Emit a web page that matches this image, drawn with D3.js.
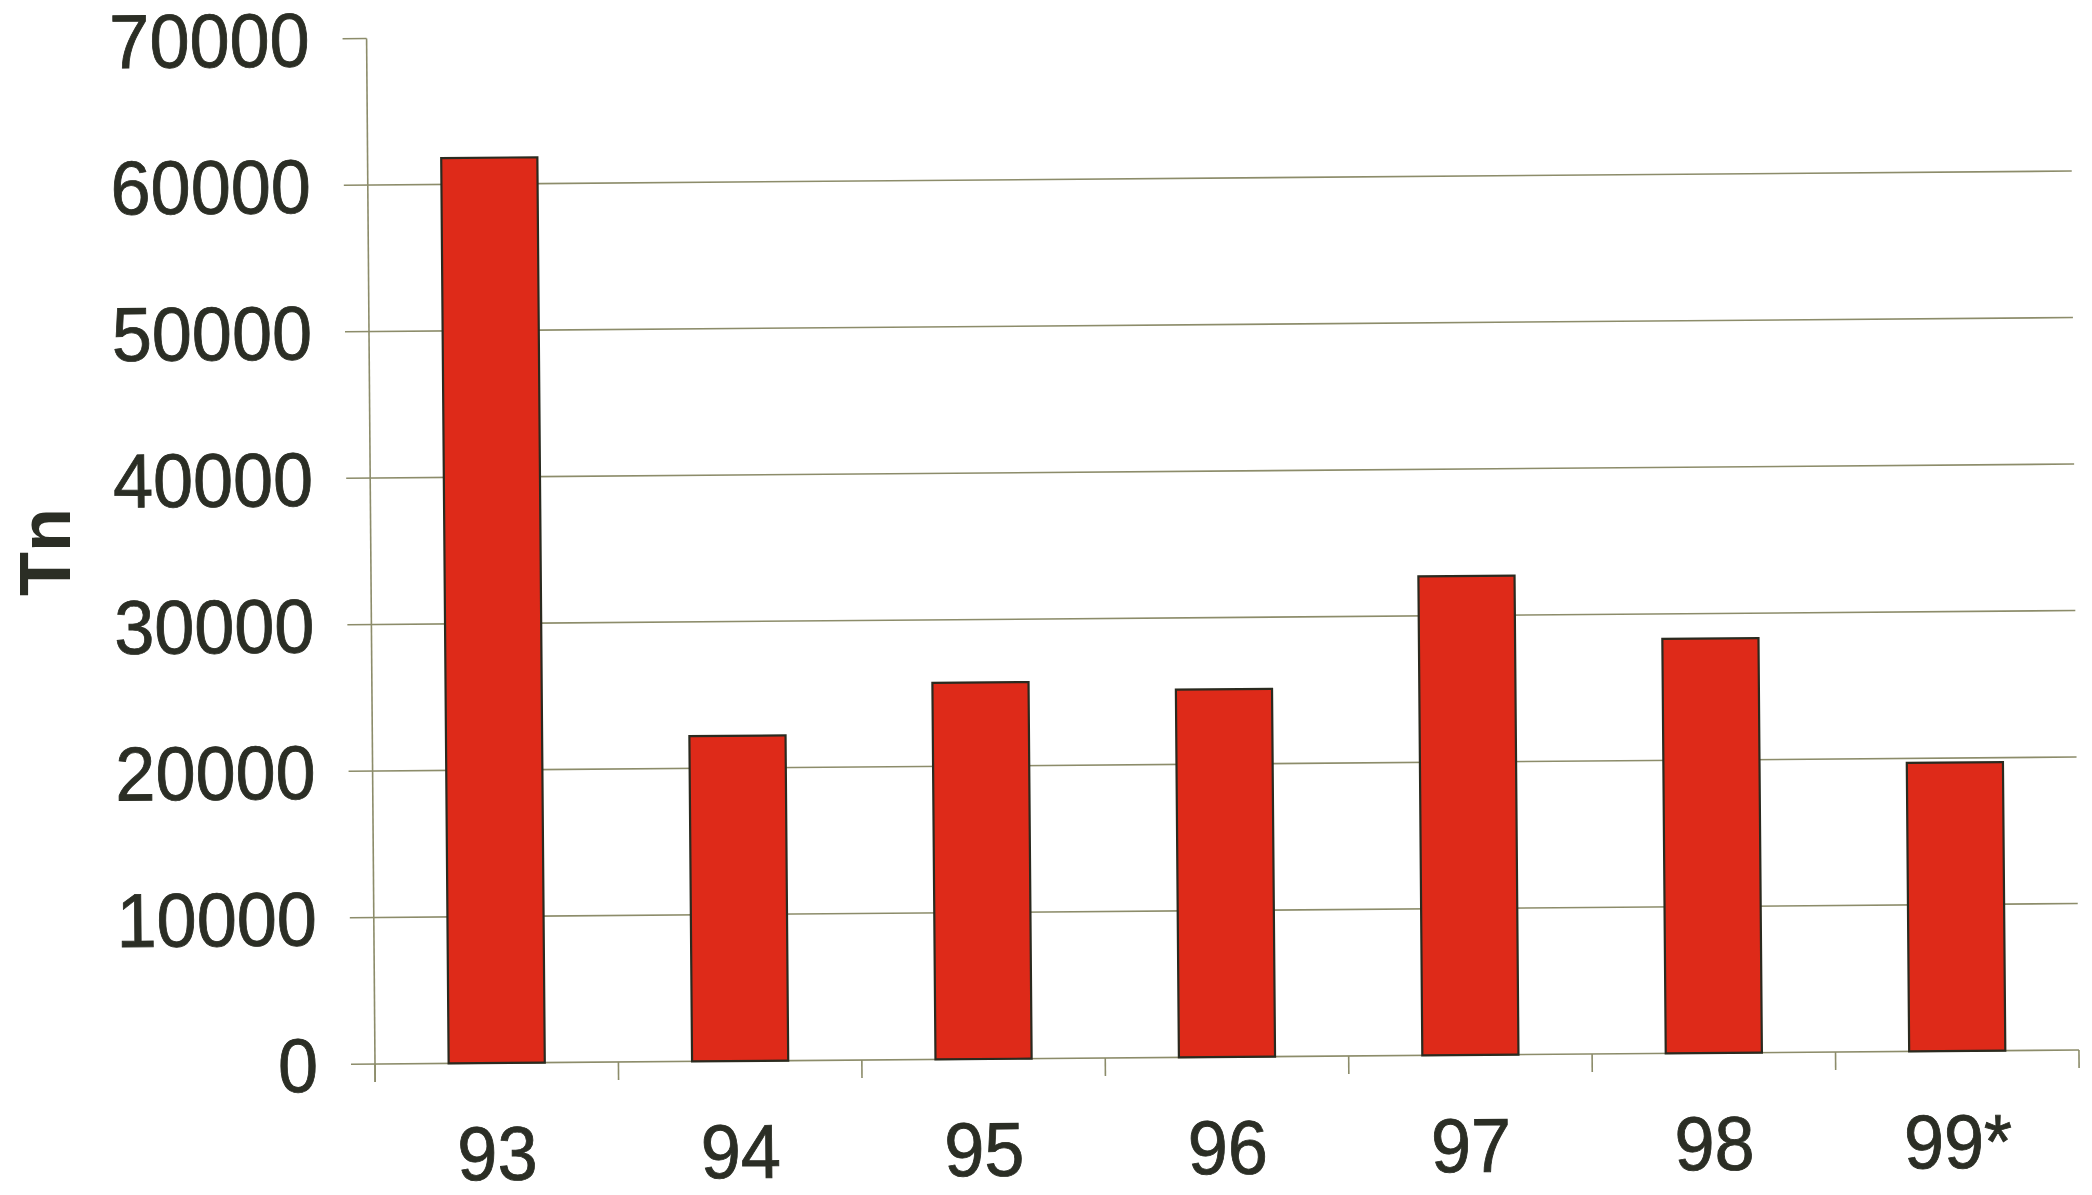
<!DOCTYPE html>
<html>
<head>
<meta charset="utf-8">
<script src="https://cdn.jsdelivr.net/npm/d3@7/dist/d3.min.js"></script>
<style>
  html, body { margin: 0; padding: 0; background: #ffffff; }
  svg { display: block; }
  text { font-family: "Liberation Sans", Arial, sans-serif; fill: #2b2e25; }
  .lbl { stroke: #2b2e25; stroke-width: 0.8; }
</style>
</head>
<body>
<svg id="chart" width="2092" height="1195"></svg>
<script>
// Annual tonnage, 1993–1999 (1999 provisional)
const years = ["93", "94", "95", "96", "97", "98", "99*"];
const tonnes = [61800, 22200, 25700, 25100, 32700, 28300, 19700];
const yTicks = [0, 10000, 20000, 30000, 40000, 50000, 60000, 70000];
const yTitle = "Tn";

const plotLeft = 375, plotRight = 2079, plotZero = 1064, plotTop = 38.5;
const tilt = -0.47;

const svg = d3.select("#chart");
const g = svg.append("g")
  .attr("transform", `rotate(${tilt}, ${plotLeft}, ${plotZero})`);

const x = d3.scaleBand()
  .domain(years)
  .range([plotLeft, plotRight])
  .paddingInner(0.605)
  .paddingOuter(0.3025);

const y = d3.scaleLinear()
  .domain([0, 70000])
  .range([plotZero, plotTop]);

const lineColor = "#8c8c6a";

// horizontal gridlines with left tick marks
g.append("g")
  .selectAll("line")
  .data(yTicks)
  .join("line")
  .attr("x1", plotLeft - 24)
  .attr("x2", d => d === 70000 ? plotLeft : plotRight)
  .attr("y1", d => y(d))
  .attr("y2", d => y(d))
  .attr("stroke", lineColor)
  .attr("stroke-width", 1.6);

// value axis line
g.append("line")
  .attr("x1", plotLeft).attr("x2", plotLeft)
  .attr("y1", y(70000)).attr("y2", plotZero + 18)
  .attr("stroke", lineColor)
  .attr("stroke-width", 1.6);

// category tick marks at band boundaries
const step = x.step();
g.append("g")
  .selectAll("line")
  .data(d3.range(years.length + 1))
  .join("line")
  .attr("x1", i => plotLeft + i * step)
  .attr("x2", i => plotLeft + i * step)
  .attr("y1", plotZero)
  .attr("y2", plotZero + 18)
  .attr("stroke", lineColor)
  .attr("stroke-width", 1.6);

// bars
g.append("g")
  .selectAll("rect")
  .data(years.map((k, i) => ({ k, v: tonnes[i] })))
  .join("rect")
  .attr("x", d => x(d.k))
  .attr("width", x.bandwidth())
  .attr("y", d => y(d.v))
  .attr("height", d => y(0) - y(d.v))
  .attr("fill", "#de2a19")
  .attr("stroke", "#2a2a1f")
  .attr("stroke-width", 2.2);

// value labels (slightly tall glyphs)
g.append("g")
  .selectAll("text")
  .data(yTicks)
  .join("text")
  .attr("class", "lbl")
  .attr("transform", d => `translate(318, ${y(d)}) scale(1, 1.06)`)
  .attr("dy", "0.36em")
  .attr("text-anchor", "end")
  .attr("font-size", 72)
  .text(d => d);

// category labels
g.append("g")
  .selectAll("text")
  .data(years)
  .join("text")
  .attr("class", "lbl")
  .attr("transform", d => `translate(${x(d) + x.bandwidth() / 2}, ${plotZero + 117}) scale(1, 1.06)`)
  .attr("text-anchor", "middle")
  .attr("font-size", 72)
  .text(d => d);

// axis title
svg.append("text")
  .attr("transform", "translate(70, 552) rotate(-90)")
  .attr("text-anchor", "middle")
  .attr("font-size", 72)
  .attr("font-weight", "bold")
  .text(yTitle);
</script>
</body>
</html>
